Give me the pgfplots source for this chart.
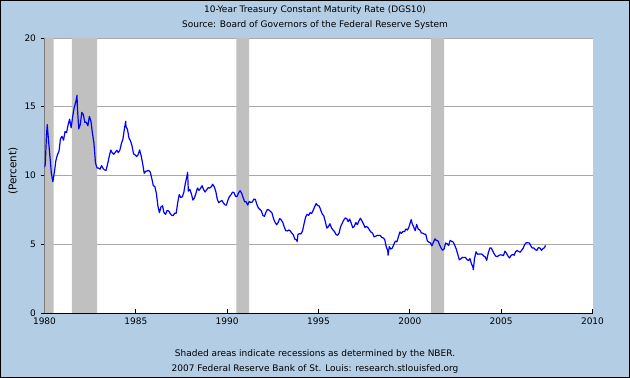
\documentclass[border=0pt]{standalone}
\usepackage{fontspec}
\setmainfont{DejaVu Sans}
\usepackage{pgfplots}
\usepackage{pgfplotstable}
\pgfplotsset{compat=1.18}
\definecolor{bgblue}{HTML}{B3CDE5}
\definecolor{recgray}{HTML}{C0C0C0}
\definecolor{gridgray}{HTML}{A8A8A8}
\pgfplotstableread{
yr m v
1980 0.5 10.60
1980 1 10.80
1980 1.8 12.90
1980 2.3 13.70
1980 3 12.75
1980 4 11.47
1980 5 10.18
1980 6 9.55
1980 7 10.25
1980 8 11.10
1980 9 11.51
1980 10 11.75
1980 11 12.68
1980 12 12.84
1981 1 12.57
1981 2 13.19
1981 3 13.12
1981 4 13.68
1981 5 14.10
1981 6 13.47
1981 7 14.28
1981 8 14.94
1981 9 15.32
1981 9.9 15.84
1981 10 15.15
1981 11 13.39
1981 12 13.72
1982 1 14.59
1982 2 14.43
1982 3 13.86
1982 4 13.87
1982 5 13.62
1982 6 14.30
1982 7 13.95
1982 8 13.06
1982 9 12.34
1982 10 10.91
1982 11 10.55
1982 12 10.54
1983 1 10.46
1983 2 10.72
1983 3 10.51
1983 4 10.40
1983 5 10.38
1983 6 10.85
1983 7 11.38
1983 8 11.85
1983 9 11.65
1983 10 11.54
1983 11 11.69
1983 12 11.83
1984 1 11.67
1984 2 11.84
1984 3 12.32
1984 4 12.63
1984 5 13.41
1984 5.9 13.95
1984 6 13.56
1984 7 13.36
1984 8 12.72
1984 9 12.52
1984 10 12.16
1984 11 11.57
1984 12 11.50
1985 1 11.38
1985 2 11.51
1985 3 11.86
1985 4 11.43
1985 5 10.85
1985 6 10.16
1985 7 10.31
1985 8 10.33
1985 9 10.37
1985 10 10.24
1985 11 9.78
1985 12 9.26
1986 1 9.19
1986 2 8.70
1986 3 7.78
1986 4 7.30
1986 5 7.71
1986 6 7.80
1986 7 7.30
1986 8 7.17
1986 9 7.45
1986 10 7.43
1986 11 7.25
1986 12 7.11
1987 1 7.08
1987 2 7.25
1987 3 7.25
1987 4 8.02
1987 5 8.61
1987 6 8.40
1987 7 8.45
1987 8 8.76
1987 9 9.42
1987 10 9.90
1987 10.5 10.23
1987 11 8.86
1987 12 8.99
1988 1 8.67
1988 2 8.21
1988 3 8.37
1988 4 8.72
1988 5 9.09
1988 6 8.92
1988 7 9.06
1988 8 9.26
1988 9 8.98
1988 10 8.80
1988 11 8.96
1988 12 9.11
1989 1 9.09
1989 2 9.17
1989 3 9.36
1989 4 9.18
1989 5 8.86
1989 6 8.28
1989 7 8.02
1989 8 8.11
1989 9 8.19
1989 10 8.01
1989 11 7.87
1989 12 7.84
1990 1 8.21
1990 2 8.47
1990 3 8.59
1990 4 8.79
1990 5 8.76
1990 6 8.48
1990 7 8.47
1990 8 8.75
1990 9 8.89
1990 10 8.72
1990 11 8.39
1990 12 8.08
1991 1 8.09
1991 2 7.85
1991 3 8.11
1991 4 8.04
1991 5 8.07
1991 6 8.28
1991 7 8.27
1991 8 7.90
1991 9 7.65
1991 10 7.53
1991 11 7.42
1991 12 7.09
1992 1 7.03
1992 2 7.34
1992 3 7.54
1992 4 7.48
1992 5 7.39
1992 6 7.26
1992 7 6.84
1992 8 6.59
1992 9 6.42
1992 10 6.59
1992 11 6.87
1992 12 6.77
1993 1 6.60
1993 2 6.26
1993 3 5.98
1993 4 5.97
1993 5 6.04
1993 6 5.96
1993 7 5.81
1993 8 5.68
1993 9 5.36
1993 10 5.33
1993 10.5 5.20
1993 11 5.72
1993 12 5.77
1994 1 5.75
1994 2 5.97
1994 3 6.48
1994 4 6.97
1994 5 7.18
1994 6 7.10
1994 7 7.30
1994 8 7.24
1994 9 7.46
1994 10 7.74
1994 11 7.96
1994 12 7.81
1995 1 7.78
1995 2 7.47
1995 3 7.20
1995 4 7.06
1995 5 6.63
1995 6 6.17
1995 7 6.28
1995 8 6.49
1995 9 6.20
1995 10 6.04
1995 11 5.93
1995 12 5.71
1996 1 5.65
1996 2 5.81
1996 3 6.27
1996 4 6.51
1996 5 6.74
1996 6 6.91
1996 7 6.87
1996 8 6.64
1996 9 6.83
1996 10 6.53
1996 11 6.20
1996 12 6.30
1997 1 6.58
1997 2 6.42
1997 3 6.69
1997 4 6.89
1997 5 6.71
1997 6 6.49
1997 7 6.22
1997 8 6.30
1997 9 6.21
1997 10 6.03
1997 11 5.88
1997 12 5.81
1998 1 5.54
1998 2 5.57
1998 3 5.65
1998 4 5.64
1998 5 5.65
1998 6 5.50
1998 7 5.46
1998 8 5.34
1998 9 4.81
1998 10 4.53
1998 10.2 4.20
1998 11 4.83
1998 12 4.65
1999 1 4.72
1999 2 5.00
1999 3 5.23
1999 4 5.18
1999 5 5.54
1999 6 5.90
1999 7 5.79
1999 8 5.94
1999 9 5.92
1999 10 6.11
1999 11 6.03
1999 12 6.28
2000 1 6.66
2000 1.4 6.79
2000 2 6.52
2000 3 6.26
2000 4 5.99
2000 5 6.44
2000 6 6.10
2000 7 6.05
2000 8 5.83
2000 9 5.80
2000 10 5.74
2000 11 5.72
2000 12 5.24
2001 1 5.16
2001 2 5.10
2001 3 4.89
2001 4 5.14
2001 5 5.39
2001 6 5.28
2001 7 5.24
2001 8 4.97
2001 9 4.73
2001 10 4.57
2001 11 4.65
2001 12 5.09
2002 1 5.04
2002 2 4.91
2002 3 5.28
2002 4 5.21
2002 5 5.16
2002 6 4.93
2002 7 4.65
2002 8 4.26
2002 9 3.87
2002 10 3.94
2002 11 4.05
2002 12 4.03
2003 1 4.05
2003 2 3.90
2003 3 3.81
2003 4 3.96
2003 5 3.57
2003 6 3.33
2003 6.2 3.15
2003 7 3.98
2003 8 4.45
2003 9 4.27
2003 10 4.29
2003 11 4.30
2003 12 4.27
2004 1 4.15
2004 2 4.08
2004 3 3.83
2004 4 4.35
2004 5 4.72
2004 6 4.73
2004 7 4.50
2004 8 4.28
2004 9 4.13
2004 10 4.10
2004 11 4.19
2004 12 4.23
2005 1 4.22
2005 2 4.17
2005 3 4.50
2005 4 4.34
2005 5 4.14
2005 6 4.00
2005 7 4.18
2005 8 4.26
2005 9 4.20
2005 10 4.46
2005 11 4.54
2005 12 4.47
2006 1 4.42
2006 2 4.57
2006 3 4.72
2006 4 4.99
2006 5 5.11
2006 6 5.11
2006 7 5.09
2006 8 4.88
2006 9 4.72
2006 10 4.73
2006 11 4.60
2006 12 4.56
2007 1 4.76
2007 2 4.72
2007 3 4.56
2007 4 4.69
2007 5 4.75
2007 5.6 4.92
}\dgsten
\begin{document}
\begin{tikzpicture}[font=\fontsize{9}{11}\selectfont]
\fill[bgblue] (0,0) rectangle (630pt,378pt);
\draw[black, line width=1pt] (0.5pt,0.5pt) rectangle (629.5pt,377.5pt);
\node at (315pt,368pt) {10-Year Treasury Constant Maturity Rate (DGS10)};
\node at (315pt,353pt) {Source: Board of Governors of the Federal Reserve System};
\node at (315pt,24pt) {Shaded areas indicate recessions as determined by the NBER.};
\node at (315pt,9pt) {2007 Federal Reserve Bank of St. Louis: research.stlouisfed.org};
\node[rotate=90, font=\fontsize{10.5}{12}\selectfont] at (13pt,207pt) {(Percent)};
\begin{axis}[
  at={(44.5pt,65pt)}, anchor=south west,
  scale only axis, width=548pt, height=275pt,
  xmin=1980, xmax=2010, ymin=0, ymax=20,
  axis background/.style={fill=white},
  axis x line*=bottom, axis y line*=left,
  axis line style={black, line width=0.8pt},
  xtick={1980,1985,...,2010}, ytick={0,5,10,15,20},
  xticklabels={1980,1985,1990,1995,2000,2005,2010},
  xtick align=inside, ytick align=outside,
  major tick length=4pt,
  tick style={black, line width=0.8pt},
  ymajorgrids, grid style={gridgray, line width=0.8pt},
  /pgf/number format/assume math mode=true,
  /pgf/number format/1000 sep={},
  tick label style={font=\fontsize{9}{11}\selectfont},
  yticklabel style={xshift=-1pt},
  xticklabel style={yshift=-1pt},
  clip=true,
]
\addplot[fill=recgray, draw=none] coordinates {(1980,0)(1980,20)(1980.5,20)(1980.5,0)} \closedcycle;
\addplot[fill=recgray, draw=none] coordinates {(1981.5,0)(1981.5,20)(1982.88,20)(1982.88,0)} \closedcycle;
\addplot[fill=recgray, draw=none] coordinates {(1990.5,0)(1990.5,20)(1991.2,20)(1991.2,0)} \closedcycle;
\addplot[fill=recgray, draw=none] coordinates {(2001.17,0)(2001.17,20)(2001.88,20)(2001.88,0)} \closedcycle;
\addplot[blue, line width=1.2pt, line join=round] table[x expr={\thisrow{yr}+(\thisrow{m}-0.5)/12}, y=v] {\dgsten};
\end{axis}
\end{tikzpicture}
\end{document}
